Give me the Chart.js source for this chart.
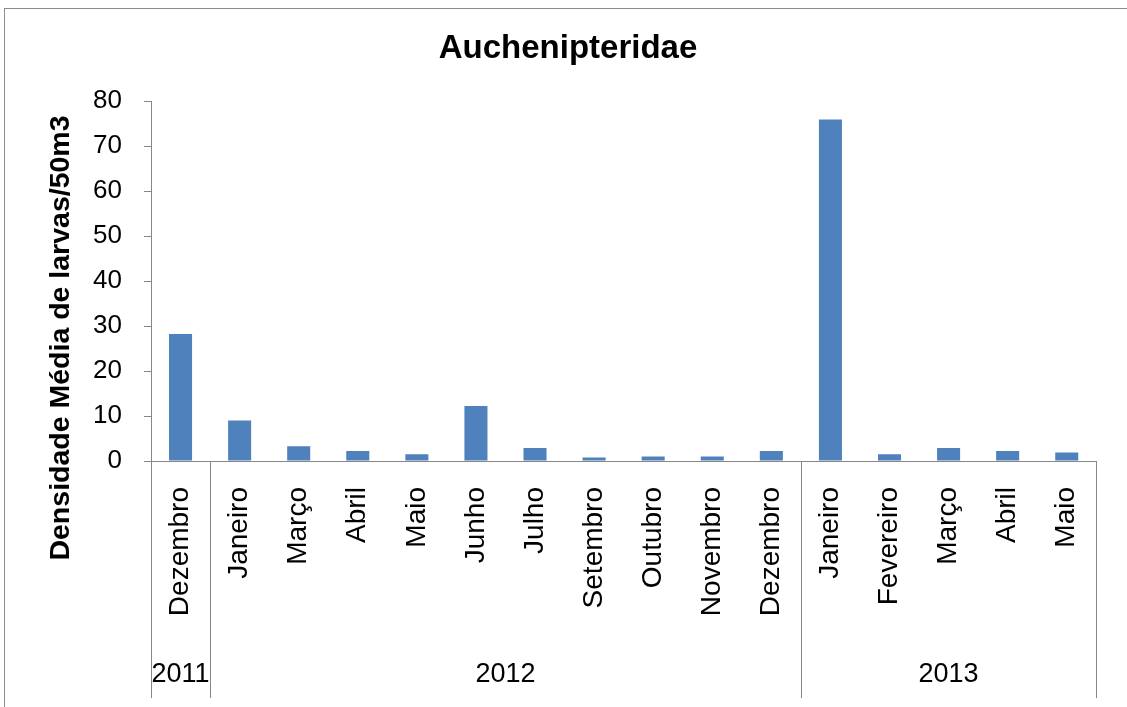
<!DOCTYPE html>
<html>
<head>
<meta charset="utf-8">
<title>Auchenipteridae</title>
<script src="https://cdn.jsdelivr.net/npm/chart.js@4/dist/chart.umd.min.js"></script>
<style>
  html, body { margin: 0; padding: 0; background: #fff; overflow: hidden; }
  #wrap { position: relative; width: 1127px; height: 707px; }
  canvas { display: block; }
</style>
</head>
<body>
<div id="wrap"><canvas id="myChart" width="1127" height="707"></canvas></div>
<script>
const months = [
  'Dezembro',
  'Janeiro', 'Março', 'Abril', 'Maio', 'Junho', 'Julho',
  'Setembro', 'Outubro', 'Novembro', 'Dezembro',
  'Janeiro', 'Fevereiro', 'Março', 'Abril', 'Maio'
]
const density = [
  28.2,
  9.0, 3.3, 2.2, 1.5, 12.2, 2.9,
  0.8, 1.0, 1.0, 2.2,
  75.9, 1.5, 2.9, 2.2, 1.9
]
const years = ['2011', '2012', '2013']
const monthsPerYear = [1, 10, 5]
const yTicks = [0, 10, 20, 30, 40, 50, 60, 70, 80]

const FONT = "'Liberation Sans', Arial, sans-serif"
const AXIS_GREY = '#868686'

// frame, title, y-axis title, year groups and their separators
const decorations = {
  id: 'decorations',
  beforeDraw(chart) {
    const c = chart.ctx
    c.save()
    c.fillStyle = '#fff'
    c.fillRect(0, 0, chart.width, chart.height)
    c.strokeStyle = '#8c8c8c'
    c.lineWidth = 1
    c.strokeRect(4.5, 8.5, chart.width + 20, chart.height + 20)
    c.restore()
  },
  afterDraw(chart) {
    const c = chart.ctx
    const x = chart.scales.x
    const area = chart.chartArea
    const half = (x.getPixelForValue(1) - x.getPixelForValue(0)) / 2

    c.save()
    c.fillStyle = '#000'
    c.textAlign = 'center'
    c.textBaseline = 'alphabetic'
    c.font = 'bold 33px ' + FONT
    c.fillText('Auchenipteridae', 568, 58)

    c.save()
    c.translate(61, 338)
    c.rotate(-Math.PI / 2)
    c.textBaseline = 'middle'
    c.font = 'bold 28.5px ' + FONT
    c.fillText('Densidade Média de larvas/50m3', 0, 0)
    c.restore()

    c.strokeStyle = AXIS_GREY
    c.lineWidth = 1
    c.font = '27px ' + FONT
    c.textBaseline = 'middle'
    let start = 0
    const edges = [area.left]
    monthsPerYear.forEach((n, i) => {
      const left = x.getPixelForValue(start) - half
      const right = x.getPixelForValue(start + n - 1) + half
      edges.push(right)
      c.fillText(years[i], (left + right) / 2, 675)
      start += n
    })
    edges.forEach(px => {
      const p = Math.round(px) + 0.5
      c.beginPath()
      c.moveTo(p, area.bottom)
      c.lineTo(p, 698)
      c.stroke()
    })
    c.restore()
  }
}

const ctx = document.getElementById('myChart')
const myChart = new Chart(ctx, {
  type: 'bar',
  data: {
    labels: months,
    datasets: [{
      data: density,
      backgroundColor: '#4F81BD',
      borderWidth: 0,
      barPercentage: 0.39,
      categoryPercentage: 1
    }]
  },
  options: {
    responsive: false,
    animation: false,
    layout: {
      autoPadding: false,
      padding: { top: 101, right: 21, bottom: 0, left: 0 }
    },
    plugins: {
      legend: { display: false },
      tooltip: { enabled: false }
    },
    scales: {
      x: {
        grid: { display: false, drawTicks: false },
        border: { color: AXIS_GREY, width: 1 },
        ticks: {
          autoSkip: false,
          minRotation: 90,
          maxRotation: 90,
          padding: 26,
          color: '#000',
          font: { family: FONT, size: 28 }
        },
        afterFit(scale) { scale.height = 707 - 461 }
      },
      y: {
        min: 0,
        max: 80,
        afterBuildTicks(scale) { scale.ticks = yTicks.map(v => ({ value: v })) },
        grid: { drawOnChartArea: false, tickLength: 7, color: AXIS_GREY },
        border: { color: AXIS_GREY, width: 1 },
        ticks: {
          padding: 22,
          color: '#000',
          font: { family: FONT, size: 26 }
        },
        afterFit(scale) { scale.width = 151 }
      }
    }
  },
  plugins: [decorations]
})
</script>
</body>
</html>
